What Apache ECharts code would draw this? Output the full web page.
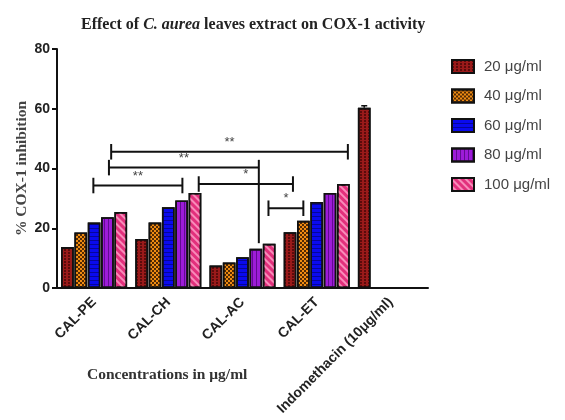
<!DOCTYPE html>
<html><head><meta charset="utf-8">
<script src="https://cdn.jsdelivr.net/npm/echarts@6/dist/echarts.min.js"></script>
<style>html,body{margin:0;padding:0;background:#fff}#c{width:565px;height:420px}</style>
</head><body><div id="c"></div>
<script>
var categories = ['CAL-PE', 'CAL-CH', 'CAL-AC', 'CAL-ET', 'Indomethacin (10μg/ml)'];
var seriesNames = ['20 μg/ml', '40 μg/ml', '60 μg/ml', '80 μg/ml', '100 μg/ml'];
var s20 = [13.7, 16.4, 7.5, 18.7, 60.3];
var s40 = [18.6, 21.9, 8.5, 22.5, '-'];
var s60 = [21.9, 27.0, 10.3, 28.8, '-'];
var s80 = [23.7, 29.3, 13.1, 31.8, '-'];
var s100 = [25.4, 31.8, 14.8, 34.8, '-'];
var errUp = [0, 0, 0, 0, 0.7]; // error on 20 μg/ml bars
var yTicks = [0, 20, 40, 60, 80];
// significance brackets (x in category units, y in % units)
var brStart = [-0.01, 0.20, 0.23, 1.41, 2.35];
var brEnd = [1.19, 2.22, 3.42, 2.68, 2.82];
var brY = [34.3, 40.3, 45.6, 34.8, 26.7];
var brLabel = ['**', '**', '**', '*', '*'];
var brEndDrop = [null, 15.0, null, null, null];

var seriesData = [s20, s40, s60, s80, s100];
var styles = [
  {color: '#9A1A1A', decal: {symbol: 'rect', symbolSize: 1, dashArrayX: [2, 2], dashArrayY: [2, 1], color: 'rgba(40,0,0,0.55)'}},
  {color: '#F08C12', decal: {symbol: 'rect', symbolSize: 1, dashArrayX: [[2, 2], [0, 2, 2, 0]], dashArrayY: [2, 0], color: 'rgba(30,10,0,0.75)'}},
  {color: '#0A0AEE', decal: {symbol: 'rect', symbolSize: 1, dashArrayX: [1, 0], dashArrayY: [1, 3], color: 'rgba(0,0,90,0.55)'}},
  {color: '#9D1CD8', decal: {symbol: 'rect', symbolSize: 1, dashArrayX: [1, 3], dashArrayY: [1, 0], color: 'rgba(60,0,100,0.6)'}},
  {color: '#E2307C', decal: {symbol: 'rect', symbolSize: 1, rotation: Math.PI / 4, dashArrayX: [1, 0], dashArrayY: [2, 3], color: 'rgba(255,170,205,0.75)'}}
];

var series = seriesData.map(function (d, i) {
  return {
    name: seriesNames[i], type: 'bar', data: d,
    xAxisIndex: 0, yAxisIndex: 0,
    barGap: '5%', barCategoryGap: '11%',
    itemStyle: {color: styles[i].color, decal: styles[i].decal, borderColor: '#111', borderWidth: 1.6},
    emphasis: {disabled: true}
  };
});

var brData = brStart.map(function (s, i) { return [s, brEnd[i], brY[i], i]; });
series.push({
  type: 'custom', name: 'brackets', xAxisIndex: 1, yAxisIndex: 0, silent: true, z: 10,
  data: brData,
  renderItem: function (params, api) {
    var i = api.value(3);
    var y = api.value(2);
    var p1 = api.coord([api.value(0), y]);
    var p2 = api.coord([api.value(1), y]);
    var capA = api.coord([api.value(0), y + 2.6]);
    var capB = api.coord([api.value(0), y - 2.6]);
    var endTop = api.coord([api.value(1), y + 2.6]);
    var endBot = api.coord([api.value(1), brEndDrop[i] != null ? brEndDrop[i] : y - 2.6]);
    var ls = {stroke: '#111', lineWidth: 2};
    return {
      type: 'group', children: [
        {type: 'line', shape: {x1: p1[0], y1: p1[1], x2: p2[0], y2: p2[1]}, style: ls},
        {type: 'line', shape: {x1: capA[0], y1: capA[1], x2: capB[0], y2: capB[1]}, style: ls},
        {type: 'line', shape: {x1: endTop[0], y1: endTop[1], x2: endBot[0], y2: endBot[1]}, style: ls},
        {type: 'text', x: (p1[0] + p2[0]) / 2, y: p1[1] - 3,
          style: {text: brLabel[i], fill: '#444', font: '13px "Liberation Sans", Arial', align: 'center', verticalAlign: 'bottom'}}
      ]
    };
  }
});
// error bar on the indomethacin (20 μg/ml) bar
series.push({
  type: 'custom', name: 'err', xAxisIndex: 0, yAxisIndex: 0, silent: true, z: 9,
  data: s20.map(function (v, i) { return [i, v, errUp[i]]; }),
  renderItem: function (params, api) {
    var e = api.value(2);
    if (!e) return null;
    var sz = api.size([1, 0]);
    var bw = sz[0] * 0.89 / 5.2;
    var c = api.coord([api.value(0), api.value(1)]);
    var x = c[0] - sz[0] * 0.89 / 2 + bw / 2;
    var top = api.coord([api.value(0), api.value(1) + e])[1];
    return {type: 'group', children: [
      {type: 'line', shape: {x1: x, y1: c[1], x2: x, y2: top}, style: {stroke: '#111', lineWidth: 1.5}},
      {type: 'line', shape: {x1: x - 3, y1: top, x2: x + 3, y2: top}, style: {stroke: '#111', lineWidth: 1.5}}
    ]};
  }
});

var serif = '"Liberation Serif", "Times New Roman", serif';
var sans = '"Liberation Sans", Arial, sans-serif';
var chart = echarts.init(document.getElementById('c'), null, {renderer: 'canvas'});
chart.setOption({
  animation: false,
  backgroundColor: '#fff',
  title: [{
    text: '{b|Effect of }{i|C. aurea}{b| leaves extract on COX-1 activity}',
    left: 76, top: 12,
    textStyle: {rich: {
      b: {fontFamily: serif, fontWeight: 'bold', fontSize: 16, color: '#222'},
      i: {fontFamily: serif, fontWeight: 'bold', fontStyle: 'italic', fontSize: 16, color: '#222'}
    }}
  }, {
    text: 'Concentrations in μg/ml', left: 82, top: 362,
    textStyle: {fontFamily: serif, fontWeight: 'bold', fontSize: 15.5, color: '#333'}
  }],
  legend: {
    data: seriesNames, orient: 'vertical', left: 446, top: 54,
    icon: 'rect',
    itemWidth: 22, itemHeight: 13, itemGap: 14.5,
    textStyle: {fontFamily: sans, fontSize: 15, color: '#444', padding: [0, 0, 0, 5]},
    selectedMode: false
  },
  grid: {left: 57, right: 137, top: 49, bottom: 132, containLabel: false},
  xAxis: [{
    type: 'category', data: categories,
    axisLine: {lineStyle: {color: '#111', width: 2}},
    axisTick: {alignWithLabel: true, length: 5, lineStyle: {color: '#111', width: 2}},
    axisLabel: {rotate: 45, interval: 0, margin: 12, fontFamily: sans, fontWeight: 'bold', fontSize: 14, color: '#222'}
  }, {
    type: 'value', min: -0.5, max: 4.5, show: false
  }],
  yAxis: {
    type: 'value', min: yTicks[0], max: yTicks[yTicks.length - 1], interval: 20,
    name: '% COX-1 inhibition', nameLocation: 'middle', nameGap: 27, nameMoveOverlap: false,
    nameTextStyle: {fontFamily: serif, fontWeight: 'bold', fontSize: 15.5, color: '#444'},
    splitLine: {show: false},
    axisLine: {show: true, onZero: false, lineStyle: {color: '#111', width: 2}},
    axisTick: {show: true, length: 5, lineStyle: {color: '#111', width: 2}},
    axisLabel: {margin: 7, fontFamily: sans, fontWeight: 'bold', fontSize: 14, color: '#222'}
  },
  series: series
});
</script></body></html>
